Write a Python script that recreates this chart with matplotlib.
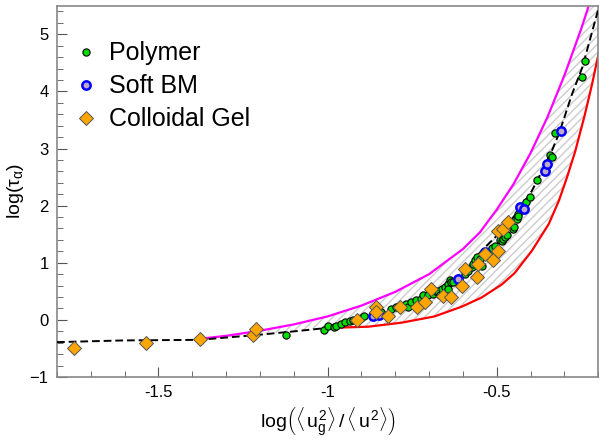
import matplotlib
matplotlib.use("Agg")
import matplotlib.pyplot as plt
from matplotlib.lines import Line2D
from matplotlib.ticker import MultipleLocator

plt.rcParams['font.family'] = ['Liberation Sans', 'DejaVu Sans']
plt.rcParams['mathtext.fontset'] = 'custom'
plt.rcParams['mathtext.rm'] = 'Liberation Sans'
plt.rcParams['mathtext.it'] = 'Liberation Sans'
plt.rcParams['hatch.linewidth'] = 1.0

# master curve (black dashed)
fit_x = [-1.80, -1.60, -1.38, -1.20, -1.08, -1.00, -0.88, -0.78, -0.68, -0.62, -0.545,
         -0.485, -0.435, -0.396, -0.366, -0.337, -0.316, -0.277, -0.247, -0.233, -0.197]
fit_y = [-0.39, -0.36, -0.35, -0.26, -0.19, -0.14, 0.05, 0.20, 0.46, 0.69, 1.21,
         1.56, 1.91, 2.26, 2.61, 2.96, 3.26, 3.96, 4.42, 4.72, 5.50]

# upper bound (magenta)
up_x = [-1.376, -1.30, -1.20, -1.10, -1.00, -0.90, -0.80, -0.70, -0.60, -0.55,
        -0.50, -0.45, -0.40, -0.35, -0.30, -0.25, -0.228]
up_y = [-0.33, -0.28, -0.19, -0.08, 0.06, 0.25, 0.49, 0.80, 1.24, 1.53,
        1.93, 2.38, 2.92, 3.55, 4.28, 5.10, 5.50]

# lower bound (red)
lo_x = [-0.990, -0.880, -0.782, -0.684, -0.604, -0.545, -0.485, -0.447, -0.396, -0.346,
        -0.316, -0.292, -0.268, -0.240, -0.218, -0.194]
lo_y = [-0.14, -0.12, -0.05, 0.06, 0.23, 0.39, 0.62, 0.82, 1.21, 1.68,
        2.09, 2.50, 2.95, 3.58, 4.13, 4.80]

polymer_x = [-1.124, -1.010, -1.000, -0.981, -0.975, -0.960, -0.950, -0.935, -0.925, -0.901,
             -0.891, -0.851, -0.842, -0.812, -0.797, -0.782, -0.767, -0.762, -0.753, -0.738,
             -0.723, -0.718, -0.703, -0.688, -0.678, -0.673, -0.668, -0.663, -0.654, -0.643,
             -0.643, -0.639, -0.634, -0.629, -0.594, -0.584, -0.574, -0.569, -0.564, -0.559,
             -0.550, -0.545, -0.540, -0.525, -0.520, -0.515, -0.505, -0.490, -0.485, -0.480,
             -0.475, -0.470, -0.452, -0.450, -0.441, -0.437, -0.436, -0.414, -0.401, -0.381,
             -0.342, -0.337, -0.327, -0.247, -0.238]
polymer_y = [-0.27, -0.18, -0.11, -0.12, -0.10, -0.07, -0.04, -0.02, 0.00, 0.04,
             0.06, 0.11, 0.13, 0.19, 0.22, 0.25, 0.28, 0.22, 0.31, 0.34,
             0.37, 0.43, 0.43, 0.46, 0.48, 0.51, 0.43, 0.54, 0.57, 0.63,
             0.54, 0.69, 0.66, 0.66, 0.81, 0.86, 0.92, 0.98, 1.04, 1.10,
             1.07, 0.95, 1.16, 1.17, 1.21, 1.26, 1.30, 1.39, 1.38, 1.42,
             1.45, 1.48, 1.59, 1.62, 1.77, 1.86, 1.81, 2.06, 2.15, 2.45,
             2.89, 2.85, 3.27, 4.26, 4.53]

softbm_x = [-0.866, -0.847, -0.614, -0.535, -0.431, -0.418, -0.358, -0.351, -0.309]
softbm_y = [0.075, 0.09, 0.72, 1.18, 1.98, 1.94, 2.60, 2.73, 3.30]

gel_x = [-1.750, -1.537, -1.378, -1.220, -1.211, -0.913, -0.856, -0.856, -0.820, -0.787,
         -0.735, -0.713, -0.693, -0.658, -0.636, -0.602, -0.594, -0.559, -0.554, -0.535,
         -0.510, -0.495, -0.495, -0.480, -0.467]
gel_y = [-0.49, -0.40, -0.34, -0.26, -0.16, -0.01, 0.23, 0.13, 0.075, 0.22,
         0.23, 0.32, 0.54, 0.41, 0.40, 0.60, 0.89, 0.75, 0.98, 1.16,
         1.04, 1.21, 1.56, 1.59, 1.71]

labels = ['Polymer', 'Soft BM', 'Colloidal Gel']

xmin, xmax = -1.8, -0.2
ymin, ymax = -1, 5.5

fig = plt.figure(figsize=(6, 4.44), dpi=100)
ax = fig.add_axes([0.095, 0.151, 0.902, 0.836])

# hatched band between the bounds (lower edge follows the master curve until red starts)
band_x = up_x + [xmax] + lo_x[::-1] + [x for x in fit_x if -1.38 <= x < -0.99][::-1]
band_y = up_y + [ymax] + lo_y[::-1] + [y for x, y in zip(fit_x, fit_y) if -1.38 <= x < -0.99][::-1]
ax.fill(band_x, band_y, facecolor='none', edgecolor='#cccccc', hatch='////', linewidth=0, zorder=1)

ax.plot(up_x, up_y, color='#ff00ff', lw=1.6, zorder=2)
ax.plot(lo_x, lo_y, color='#ff0000', lw=1.6, zorder=2)
ax.plot(fit_x, fit_y, color='black', lw=1.4, ls=(0, (4, 2)), zorder=3)

green = dict(marker='o', ms=5.2, mfc='#00dd00', mec='black', mew=0.8)
blue = dict(marker='o', ms=6, mfc='#c0a8c8', mec='#0000ff', mew=1.8)
orange = dict(marker='D', ms=7, mfc='#ffa500', mec='#555555', mew=0.7)

ax.plot(polymer_x, polymer_y, ls='none', zorder=4, **green)
ax.plot(softbm_x, softbm_y, ls='none', zorder=4, **blue)
ax.plot(gel_x, gel_y, ls='none', zorder=5, **orange)

ax.set_xlim(xmin, xmax)
ax.set_ylim(ymin, ymax)
ax.xaxis.set_major_locator(MultipleLocator(0.5))
ax.xaxis.set_minor_locator(MultipleLocator(0.1))
ax.yaxis.set_major_locator(MultipleLocator(1))
ax.yaxis.set_minor_locator(MultipleLocator(0.2))
ax.xaxis.set_major_formatter(plt.FuncFormatter(lambda v, p: '%g' % v))
ax.tick_params(which='both', direction='in', top=False, right=False, color='#555555', labelsize=12)
ax.tick_params(which='major', length=7, pad=6)
ax.tick_params(which='minor', length=4)
for s in ax.spines.values():
    s.set_color('#888888')
    s.set_linewidth(1.2)

ax.set_ylabel(r'log($\tau_{\alpha}$)', fontsize=14, labelpad=3)
ax.set_xlabel(r'log$\left(\langle\, u_g^2\rangle \,/\, \langle\, u^2\rangle\right)$', fontsize=14, labelpad=4)

handles = [Line2D([], [], ls='none', **green),
           Line2D([], [], ls='none', **blue),
           Line2D([], [], ls='none', **orange)]
ax.legend(handles, labels, loc='upper left', bbox_to_anchor=(0.017, 0.931),
          frameon=False, fontsize=18, handlelength=0.8, handletextpad=0.5,
          labelspacing=0.36, borderaxespad=0)

fig.savefig('out.png', dpi=100)
